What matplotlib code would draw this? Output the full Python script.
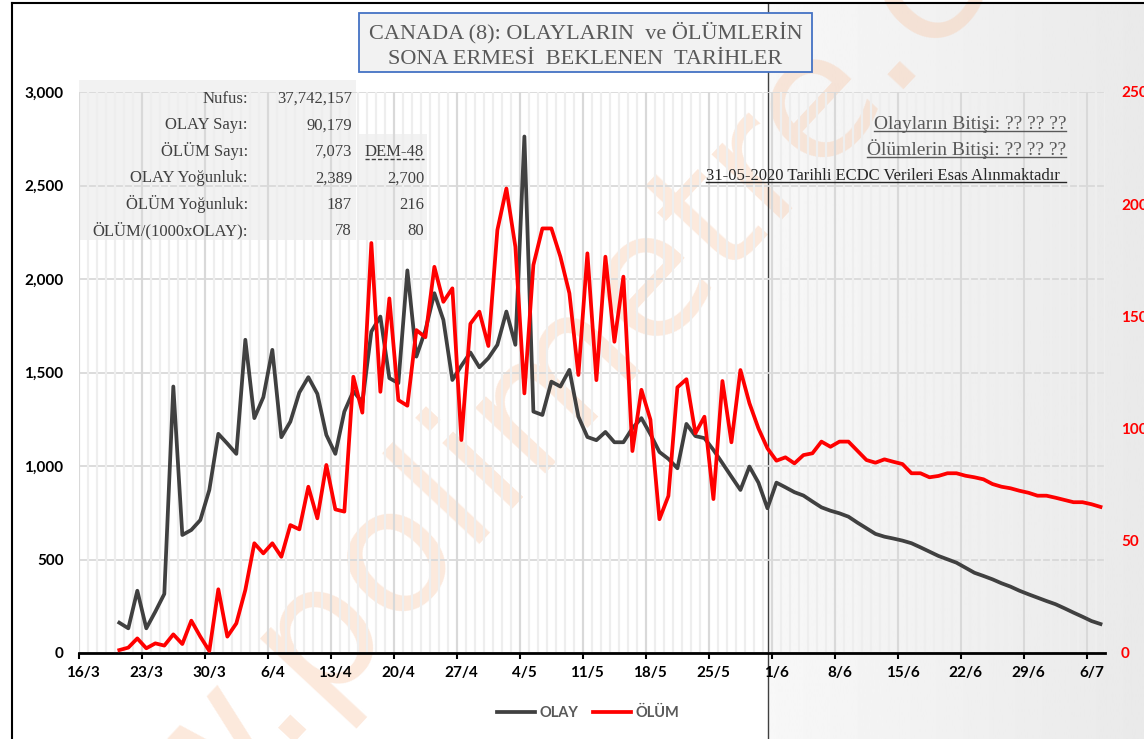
import numpy as np
import matplotlib
matplotlib.use("Agg")
import matplotlib.pyplot as plt
from matplotlib.patches import Rectangle
from matplotlib.lines import Line2D

plt.rcParams["font.family"] = ["Lato", "DejaVu Sans"]

# daily values from 20/3 to 7/7 (after 31/5 the values are the projection)
olay = [162, 132, 333, 132, 221, 316, 1425, 631, 658, 711,
        872, 1172, 1120, 1065, 1675, 1256, 1368, 1621, 1154, 1237,
        1393, 1475, 1386, 1166, 1065, 1291, 1400, 1340, 1719, 1799,
        1470, 1443, 2046, 1585, 1725, 1924, 1781, 1460, 1536, 1607,
        1528, 1577, 1648, 1826, 1648, 2762, 1291, 1273, 1451, 1425,
        1514, 1264, 1155, 1138, 1182, 1127, 1127, 1202, 1256, 1170,
        1075, 1038, 988, 1225, 1160, 1149, 1086, 1015, 943, 872,
        997, 911, 774, 911, 886, 860, 842, 810, 779, 761,
        747, 729, 697, 667, 637, 622, 612, 601, 587, 565,
        542, 519, 501, 483, 456, 429, 412, 394, 373, 355,
        333, 314, 296, 278, 261, 239, 216, 194, 171, 155]
olum = [1.3, 2.4, 6.5, 2.1, 4.3, 3.3, 8.3, 4, 14.4, 7.3,
        0.9, 28.4, 7.3, 13.2, 28.1, 48.9, 44.4, 48.9, 42.9, 57,
        55.1, 74.1, 60, 83.8, 64, 63, 123.1, 107.1, 182.7, 116.4,
        158, 112.7, 110.2, 143.9, 140.7, 172.1, 156.5, 162.5, 94.9, 146.7,
        152.1, 136.8, 188.5, 207, 181, 115.7, 172.9, 189.2, 189.2, 176.6,
        160.3, 123.9, 178.1, 121.6, 176.6, 138.7, 167.7, 90, 117.3, 104,
        59.6, 70, 118.4, 122, 97.9, 105.3, 68.6, 121.2, 93.9, 126.1,
        111.3, 100.1, 91.2, 85.7, 87.2, 84.5, 88.2, 89, 94.2, 91.9,
        94.2, 94.2, 90.1, 86, 84.8, 86.3, 85.2, 84.2, 80.1, 80.1,
        78.3, 78.9, 80.1, 80.1, 79, 78.3, 77.4, 75.3, 74.1, 73.4,
        72.3, 71.4, 70.1, 70.1, 69.2, 68.2, 67.2, 67.2, 66.3, 65.1]
first_day = 4  # 20/3, counted from 16/3
week_labels = ["16/3", "23/3", "30/3", "6/4", "13/4", "20/4", "27/4", "4/5",
               "11/5", "18/5", "25/5", "1/6", "8/6", "15/6", "22/6", "29/6", "6/7"]

table_labels = ["Nufus:", "OLAY Sayı:", "ÖLÜM Sayı:", "OLAY Yoğunluk:",
                "ÖLÜM Yoğunluk:", "ÖLÜM/(1000xOLAY):"]
table_values = ["37,742,157", "90,179", "7,073", "2,389", "187", "78"]
dem_values = ["", "", "DEM-48", "2,700", "216", "80"]

W, H = 1144, 739
def fx(px):
    return px / W
def fy(py):
    return 1 - py / H

fig = plt.figure(figsize=(W / 100, H / 100), dpi=100)
fig.patch.set_facecolor("white")

# shaded projection area on the right
bg = fig.add_axes([fx(768), 0, 1 - fx(768), fy(4)], zorder=-2)
grad = np.linspace(0.97, 0.915, 256).reshape(1, -1)
bg.imshow(grad, cmap="gray", vmin=0, vmax=1, aspect="auto", extent=[0, 1, 0, 1])
bg.set_axis_off()

# big diagonal watermark
fig.text(fx(555), fy(385), "www.polimetre.com", rotation=47, ha="center", va="center",
         fontsize=126, color="#f8cbad", alpha=0.42, family="DejaVu Sans", zorder=0.7)

# grey box behind the info table
fig.add_artist(Rectangle((fx(79), fy(240)), fx(356) - fx(79), fy(80) - fy(240),
                         transform=fig.transFigure, facecolor="#f2f2f2", edgecolor="none", zorder=0.5))
fig.add_artist(Rectangle((fx(358), fy(240)), fx(427) - fx(358), fy(134) - fy(240),
                         transform=fig.transFigure, facecolor="#f2f2f2", edgecolor="none", zorder=0.5))

ax = fig.add_axes([fx(78.8), fy(653), fx(1105) - fx(78.8), fy(92) - fy(653)], zorder=1)
ax.patch.set_visible(False)
ax.set_axisbelow(True)

x = first_day + 0.5 + np.arange(len(olay))

ax.set_xlim(0, 114)
ax.set_ylim(0, 3000)
ax.yaxis.grid(True, color="#d9d9d9", lw=1.3)
ax.vlines(np.arange(0, 115), 0, 3000, colors="#eeeeee", lw=1.6, zorder=0.6)
ax.vlines(np.arange(0, 113, 7), 0, 3000, colors="#d9d9d9", lw=1.5, zorder=0.7)

ax.text(627, 1535, "www.polimetre.com", ha="center", va="baseline", fontsize=23,
        family="Liberation Serif", color="#f4b183", alpha=0.9, zorder=1)

l1, = ax.plot(x, olay, color="#404040", lw=2.7, solid_joinstyle="round", zorder=3)

ax2 = ax.twinx()
ax2.set_zorder(2)
ax2.set_ylim(0, 250)
l2, = ax2.plot(x, olum, color="#ff0000", lw=2.7, solid_joinstyle="round", zorder=3)

ax.set_xticks(np.arange(0, 113, 7) + 0.5, week_labels, fontweight="bold", fontsize=11)
ax.set_xticks(np.arange(0, 113, 7), minor=True)
ax.tick_params(axis="x", which="major", length=0, pad=9)
ax.tick_params(axis="x", which="minor", length=4, width=1.5, direction="out", color="black")
ax.set_yticks(range(0, 3001, 500), [f"{v:,}" for v in range(0, 3001, 500)],
              fontweight="bold", fontsize=11)
ax.tick_params(axis="y", length=0, pad=11)
ax2.set_yticks(range(0, 251, 50), [str(v) for v in range(0, 251, 50)],
               fontweight="bold", fontsize=11)
ax2.tick_params(axis="y", length=0, pad=11.5, colors="#ff0000")

for s in ["left", "right", "top"]:
    ax.spines[s].set_visible(False)
for s in ax2.spines.values():
    s.set_visible(False)
ax.spines["bottom"].set_linewidth(2)
ax.spines["bottom"].set_color("black")

# frame and divider at 31/5
fig.add_artist(Line2D([fx(12), fx(12)], [fy(3), 0], color="black", lw=1.5, zorder=6))
fig.add_artist(Line2D([fx(12), 1], [fy(3), fy(3)], color="black", lw=1.5, zorder=6))
fig.add_artist(Line2D([fx(767.5), fx(767.5)], [fy(4), 0], color="#404040", lw=1, zorder=0.9))

# title box
fig.add_artist(Rectangle((fx(359), fy(72)), fx(812) - fx(359), fy(13) - fy(72),
                         transform=fig.transFigure, facecolor="#f2f2f2", edgecolor="#4472c4",
                         lw=1.3, zorder=5))
fig.text(fx(585.5), fy(38.5), "CANADA (8): OLAYLARIN  ve ÖLÜMLERİN", ha="center", va="baseline",
         fontsize=16, family="Liberation Serif", color="#595959", zorder=6)
fig.text(fx(585.5), fy(64.5), "SONA ERMESİ  BEKLENEN  TARİHLER", ha="center", va="baseline",
         fontsize=16, family="Liberation Serif", color="#595959", zorder=6)

renderer = fig.canvas.get_renderer()

def underline(t, y_px, ls="-", extra=0):
    bb = t.get_window_extent(renderer)
    fig.add_artist(Line2D([fx(bb.x0), fx(bb.x1 + extra)], [fy(y_px), fy(y_px)],
                          color=t.get_color(), lw=1, ls=ls, zorder=6))

# info table
serif = dict(family="Liberation Serif", fontsize=12, color="#404040", va="baseline", zorder=6)
for i, (lab, val, dem) in enumerate(zip(table_labels, table_values, dem_values)):
    yb = 103 + 26.4 * i
    fig.text(fx(248), fy(yb), lab, ha="right", **serif)
    fig.text(fx(352), fy(yb), val, ha="right", **serif)
    if dem:
        t = fig.text(fx(424), fy(yb), dem, ha="right", **serif)
        if i == 2:
            underline(t, yb + 3, ls=(0, (3, 1.5)))

# notes on the right
t1 = fig.text(fx(1066), fy(129), "Olayların Bitişi: ?? ?? ??", ha="right", va="baseline",
              family="Liberation Serif", fontsize=14, color="#595959", zorder=6)
underline(t1, 131)
t2 = fig.text(fx(1066), fy(155), "Ölümlerin Bitişi: ?? ?? ??", ha="right", va="baseline",
              family="Liberation Serif", fontsize=14, color="#595959", zorder=6)
underline(t2, 157)
t3 = fig.text(fx(1060), fy(179.5), "31-05-2020 Tarihli ECDC Verileri Esas Alınmaktadır", ha="right",
              va="baseline", family="Liberation Serif", fontsize=12, color="#262626", zorder=6)
underline(t3, 182, extra=6)

fig.legend([l1, l2], ["OLAY", "ÖLÜM"], loc="center", bbox_to_anchor=(fx(588), fy(713)), ncol=2,
           frameon=False, prop=dict(family="Lato", weight="bold", size=10.5), labelcolor="#595959",
           handlelength=2.6, handletextpad=0.3, columnspacing=1.0)

fig.savefig("out.png", dpi=100)
